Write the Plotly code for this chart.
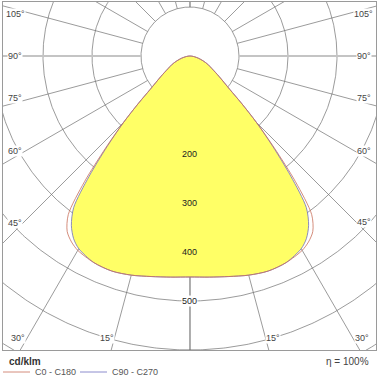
import numpy as np
import plotly.graph_objects as go

# ---------------- data ----------------
gamma = [0, 5, 10, 15, 20, 25, 30, 32.5, 35, 37.5, 40, 42.5, 45, 47.5, 50, 55, 60, 65, 70, 75, 80, 85, 90]
c0_c180 = [451, 453, 457, 463, 467, 465, 458, 450, 437, 408, 335, 255, 192, 142, 106, 72, 52, 40, 28, 18, 10, 4, 0]
c90_c270 = [451, 453, 457, 463, 467, 465, 454, 442, 422, 390, 320, 250, 192, 142, 106, 72, 52, 40, 28, 18, 10, 4, 0]
ring_values = [100, 200, 300, 400, 500, 600, 700]
ring_label_values = [200, 300, 400, 500]
angle_ticks = [15, 30, 45, 60, 75, 90, 105]
radial_angles = list(range(0, 181, 15))
series_names = ["C0 - C180", "C90 - C270"]
unit_text = "cd/klm"
eff_text = "η = 100%"

# ---------------- styles ----------------
RED = "#c9705a"
BLUE = "#7070c0"
FILL = "#ffff66"
GRID = "#707070"
FONT = "Liberation Sans, Arial, sans-serif"

XR = [-381.6, 379.6]
YR = [-600.0, 110.2]


def curve_xy(vals):
    g = np.radians(np.array(gamma, dtype=float))
    v = np.array(vals, dtype=float)
    # right half (C0 / C90): 90 -> 0, left half (C180 / C270): 0 -> 90
    xr = (v * np.sin(g))[::-1]
    yr = (-v * np.cos(g))[::-1]
    xl = -v * np.sin(g)
    yl = -v * np.cos(g)
    return np.concatenate([xr, xl[1:]]), np.concatenate([yr, yl[1:]])


fig = go.Figure()

# rings
t = np.linspace(0, 2 * np.pi, 721)
rx, ry = [], []
for r in ring_values:
    rx += list(r * np.cos(t)) + [None]
    ry += list(r * np.sin(t)) + [None]
fig.add_trace(go.Scatter(x=rx, y=ry, mode="lines", line=dict(color=GRID, width=0.7),
                         hoverinfo="skip", showlegend=False))

# radial lines
lx, ly = [], []
for a in radial_angles:
    if a == 90:
        continue
    ar = np.radians(a)
    for s in (1, -1):
        lx += [s * ring_values[0] * np.sin(ar), s * 1200 * np.sin(ar), None]
        ly += [-ring_values[0] * np.cos(ar), -1200 * np.cos(ar), None]
fig.add_trace(go.Scatter(x=lx, y=ly, mode="lines", line=dict(color=GRID, width=0.7),
                         hoverinfo="skip", showlegend=False))
# 90 degree line (thick, light)
fig.add_trace(go.Scatter(x=[-1200, -ring_values[0], None, ring_values[0], 1200],
                         y=[0, 0, None, 0, 0], mode="lines",
                         line=dict(color="#c4c4c4", width=2.2),
                         hoverinfo="skip", showlegend=False))

# filled distribution (C90 - C270)
fx, fy = curve_xy(c90_c270)
fig.add_trace(go.Scatter(x=fx, y=fy, mode="lines", fill="toself", fillcolor=FILL,
                         line=dict(color=FILL, width=0, shape="spline", smoothing=0.8),
                         hoverinfo="skip", showlegend=False))
fig.add_trace(go.Scatter(x=fx, y=fy, mode="lines", name=series_names[1],
                         line=dict(color=BLUE, width=0.8, shape="spline", smoothing=0.8),
                         hoverinfo="skip", showlegend=False))
cx, cy = curve_xy(c0_c180)
fig.add_trace(go.Scatter(x=cx, y=cy, mode="lines", name=series_names[0],
                         line=dict(color=RED, width=0.8, shape="spline", smoothing=0.8),
                         hoverinfo="skip", showlegend=False))

annotations = []
# ring value labels
for v in ring_label_values:
    annotations.append(dict(x=0, y=-v, xref="x", yref="y", text=str(v), showarrow=False,
                            font=dict(family=FONT, size=9, color="#222"),
                            bgcolor="white" if v == 500 else "rgba(0,0,0,0)", borderpad=0))

# angle labels placed on an inset frame along the ray
LEFT_X, RIGHT_X, BOTTOM_Y = -357.0, 355.0, -575.5
for a in angle_ticks:
    ap = a + 1.4 if a < 90 else (a - 1.4 if a > 90 else a)
    ar = np.radians(ap)
    for s in (-1, 1):
        sx = RIGHT_X if s > 0 else -LEFT_X
        tt = sx / np.sin(ar)
        if np.cos(ar) > 1e-6:
            tt = min(tt, -BOTTOM_Y / np.cos(ar))
        x = s * tt * np.sin(ar)
        y = -tt * np.cos(ar)
        annotations.append(dict(x=x, y=y, xref="x", yref="y", text=f"{a}°", showarrow=False,
                                font=dict(family=FONT, size=9, color="#444"),
                                bgcolor="white", borderpad=0))

# legend / footer
def px2paper(px, py):
    return (px - 3) / 373.0, (350 - py) / 348.0

ux, uy = px2paper(7, 361)
annotations.append(dict(x=ux, y=uy, xref="paper", yref="paper", xanchor="left", yanchor="middle",
                        text=f"<b>{unit_text}</b>", showarrow=False,
                        font=dict(family=FONT, size=10, color="#333")))
ex, ey = px2paper(371, 361)
annotations.append(dict(x=ex, y=ey, xref="paper", yref="paper", xanchor="right", yanchor="middle",
                        text=eff_text, showarrow=False,
                        font=dict(family=FONT, size=10, color="#444")))
shapes = []
for name, col, lx0, lx1, tx in [(series_names[0], RED, 3, 30, 33), (series_names[1], BLUE, 80, 107, 110)]:
    a0, b0 = px2paper(lx0, 372)
    a1, _ = px2paper(lx1, 372)
    shapes.append(dict(type="line", xref="paper", yref="paper", x0=a0, x1=a1, y0=b0, y1=b0,
                       line=dict(color=col, width=0.8)))
    tx_, ty_ = px2paper(tx, 372)
    annotations.append(dict(x=tx_, y=ty_, xref="paper", yref="paper", xanchor="left", yanchor="middle",
                            text=name, showarrow=False,
                            font=dict(family=FONT, size=9, color="#555")))

axis_common = dict(showgrid=False, zeroline=False, showticklabels=False, ticks="",
                   showline=True, mirror=True, linecolor="#9a9a9a", linewidth=1, fixedrange=True)
fig.update_layout(
    width=380, height=380,
    margin=dict(l=3, r=4, t=2, b=30),
    paper_bgcolor="white", plot_bgcolor="white",
    xaxis=dict(range=XR, **axis_common),
    yaxis=dict(range=YR, **axis_common),
    annotations=annotations, shapes=shapes,
    showlegend=False,
)

fig.write_html("out.html")
